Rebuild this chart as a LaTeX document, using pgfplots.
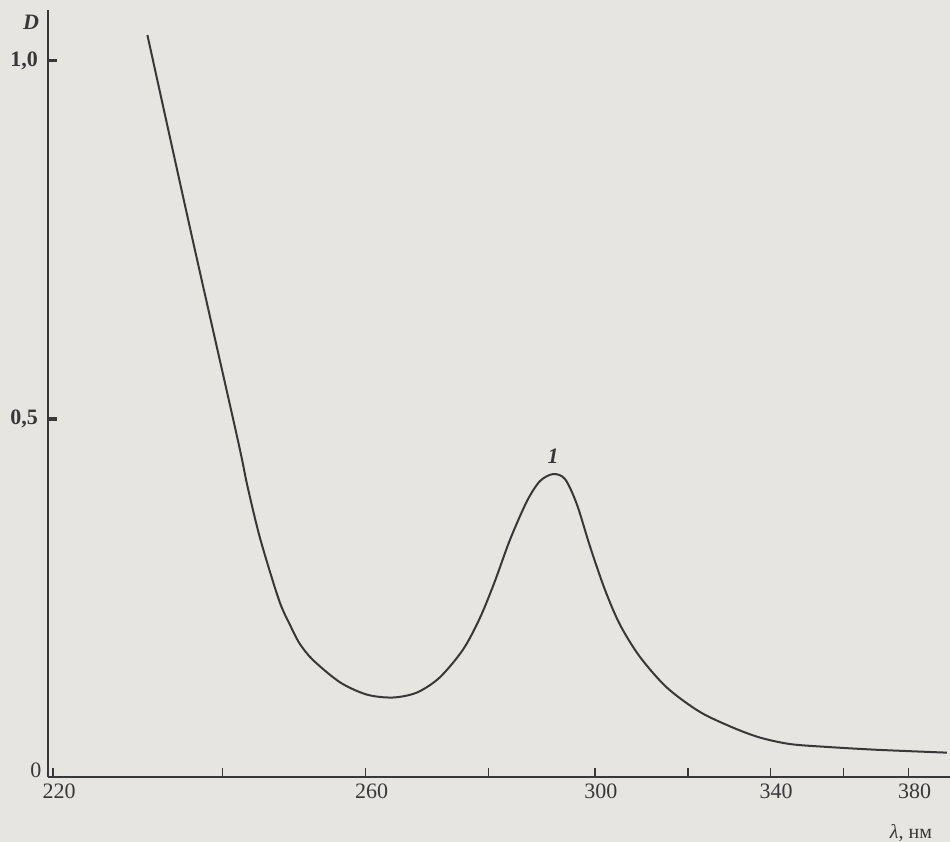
\documentclass[border=0pt]{standalone}
\usepackage{pgfplots}
\pgfplotsset{compat=1.18}
\usepackage{pgfplotstable}
\usepackage{fontspec}
\setmainfont{Liberation Serif}
\definecolor{paper}{HTML}{E7E5E1}
\definecolor{ink}{HTML}{383838}

% lambda (nm) and optical density D
\pgfplotstableread{
l D
230.7 1.036
236.1 0.756
241.9 0.475
243.2 0.409
244.8 0.339
246.6 0.276
247.8 0.239
249.0 0.213
250.4 0.186
252.3 0.163
256.2 0.132
260.2 0.115
264.2 0.111
268.0 0.118
271.7 0.139
275.6 0.178
278.5 0.222
281.1 0.273
283.8 0.331
286.9 0.385
289.3 0.413
291.8 0.423
294.1 0.416
296.4 0.381
299.0 0.322
302.0 0.262
305.1 0.213
309.3 0.168
315.2 0.125
322.7 0.091
330.6 0.069
337.4 0.055
345.2 0.046
355.3 0.042
370.0 0.038
392.8 0.034
}\spec

\begin{document}
\begin{tikzpicture}
\path[use as bounding box, fill=paper] (-24pt,-32.5pt) rectangle (451pt,388.5pt);
\begin{axis}[
  at={(0pt,0pt)}, anchor=south west, scale only axis,
  width=451pt, height=383.5pt,
  xmin=-4.557, xmax=-2.539, ymin=0, ymax=1.071,
  axis lines=left,
  axis line style={-, line width=1.2pt, ink},
  tick align=inside,
  major tick length=4.5pt,
  xtick={-4.545455,-4.166667,-3.846154,-3.571429,-3.333333,-3.125,-2.941176,-2.777778,-2.631579},
  xticklabels={220,{},260,{},300,{},340,{},380},
  ytick={0.5,1.0},
  yticklabels={{0,5},{1,0}},
  x tick style={line width=0.7pt, ink},
  y tick style={line width=1.6pt, ink},
  xticklabel style={font=\fontsize{11}{13}\selectfont, text=ink, xshift=3pt, yshift=0pt},
  yticklabel style={font=\fontsize{11}{13}\selectfont\bfseries, text=ink, xshift=-1.5pt},
  clip=false,
]
\addplot[ink, line width=1pt, smooth, tension=0.5] table[x expr={-1000/\thisrow{l}}, y=D] {\spec};
\node[anchor=south, font=\fontsize{11}{13}\selectfont\bfseries\itshape, text=ink] at (axis cs:-3.427,0.428) {1};
\end{axis}
\node[font=\fontsize{11}{13}\selectfont\bfseries\itshape, text=ink] at (-8.5pt,377.5pt) {D};
\node[font=\fontsize{11}{13}\selectfont, text=ink] at (-6pt,3.5pt) {0};
\node[font=\fontsize{10}{12}\selectfont, text=ink] at (431.5pt,-28pt) {\textit{λ}, нм};
\end{tikzpicture}
\end{document}
